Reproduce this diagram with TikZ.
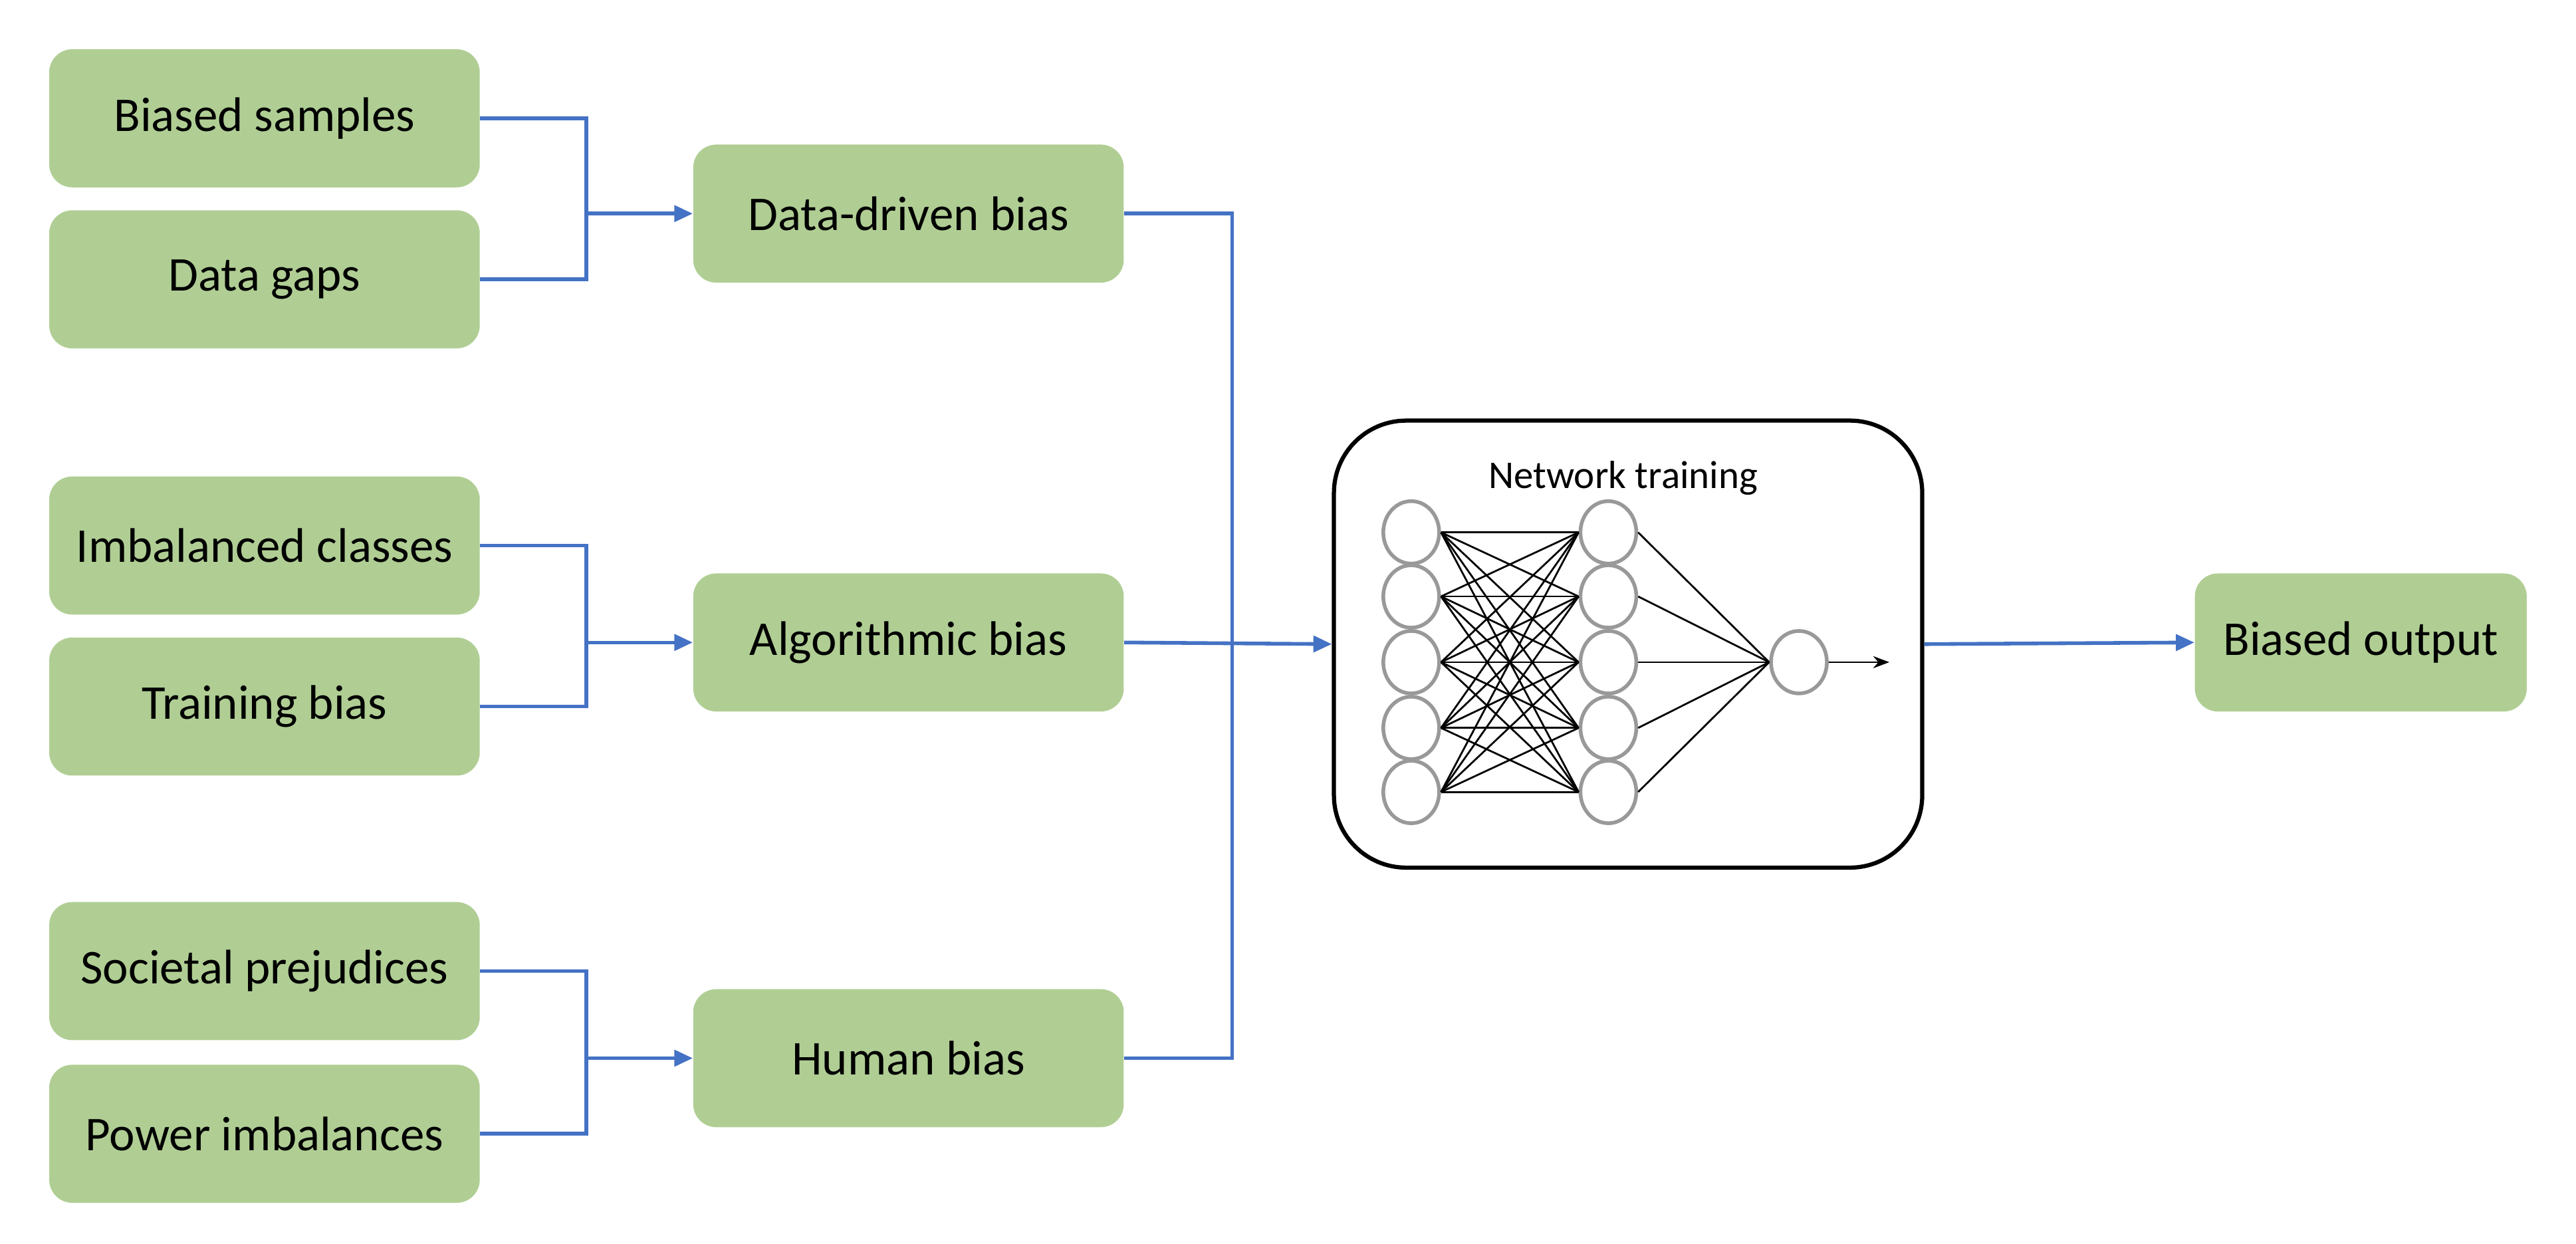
\documentclass[tikz,border=0pt]{standalone}
\usepackage{fontspec}
\setmainfont{Carlito}
\usetikzlibrary{arrows.meta,shapes.geometric}
\definecolor{boxg}{RGB}{176,206,148}
\definecolor{lineb}{RGB}{68,114,196}
\begin{document}
\begin{tikzpicture}[x=0.025cm,y=-0.025cm,
  box/.style={fill=boxg,draw=none,rounded corners=0.35cm,minimum width=6.55cm,minimum height=2.1cm,font=\fontsize{21}{24}\selectfont,inner sep=0pt},
  mid/.style={box,minimum width=6.55cm},
  conn/.style={draw=lineb,line width=1.6pt},
  arr/.style={conn,-{Triangle[length=8pt,width=7pt]}},
  neur/.style={ellipse,draw=gray!80,line width=1.6pt,minimum width=0.85cm,minimum height=0.95cm,inner sep=0pt},
  wire/.style={line width=0.8pt,black}]
\useasboundingbox (0,0) rectangle (1568,757);
\node[box] (bs) at (161,72) {Biased samples};
\node[box] (dg) at (161,170) {Data gaps};
\node[mid] (dd) at (553,130) {Data-driven bias};
\node[box] (ic) at (161,332) {Imbalanced classes};
\node[box] (tb) at (161,430) {Training bias};
\node[mid] (ab) at (553,391) {Algorithmic bias};
\node[box] (sp) at (161,591) {Societal prejudices};
\node[box] (pi) at (161,690) {Power imbalances};
\node[mid] (hb) at (553,644) {Human bias};
\node[box,minimum width=5.05cm] (bo) at (1437,391) {Biased output};
\node[draw=black,line width=1.8pt,rounded corners=1.1cm,minimum width=8.95cm,minimum height=6.8cm,inner sep=0pt] (net) at (991,392) {};
\node[font=\fontsize{17}{20}\selectfont] (nt) at (988,291) {Network training};
\coordinate (j1) at (357,130);
\coordinate (j2) at (357,391);
\coordinate (j3) at (357,644);
\coordinate (m) at (750,391);
\draw[conn] (bs.east) -| (j1); \draw[conn] (dg.east) -| (j1); \draw[arr] (j1) -- (dd.west);
\draw[conn] (ic.east) -| (j2); \draw[conn] (tb.east) -| (j2); \draw[arr] (j2) -- (ab.west);
\draw[conn] (sp.east) -| (j3); \draw[conn] (pi.east) -| (j3); \draw[arr] (j3) -- (hb.west);
\draw[conn] (dd.east) -| (m); \draw[conn] (hb.east) -| (m);
\draw[arr] (ab.east) -- (net.west);
\draw[arr] (net.east) -- (bo.west);
\foreach \i/\y in {1/324,2/363,3/403,4/443,5/482}{
  \node[neur] (a\i) at (859,\y) {};
  \node[neur] (b\i) at (979,\y) {};
}
\node[neur] (o) at (1095,403) {};
\foreach \i in {1,...,5}{\foreach \j in {1,...,5}{\draw[wire] (a\i.east) -- (b\j.west);}
  \draw[wire] (b\i.east) -- (o.west);}
\coordinate (oe) at (1150,403);
\draw[wire,-{Stealth[length=7pt]}] (o.east) -- (oe);
\end{tikzpicture}
\end{document}
